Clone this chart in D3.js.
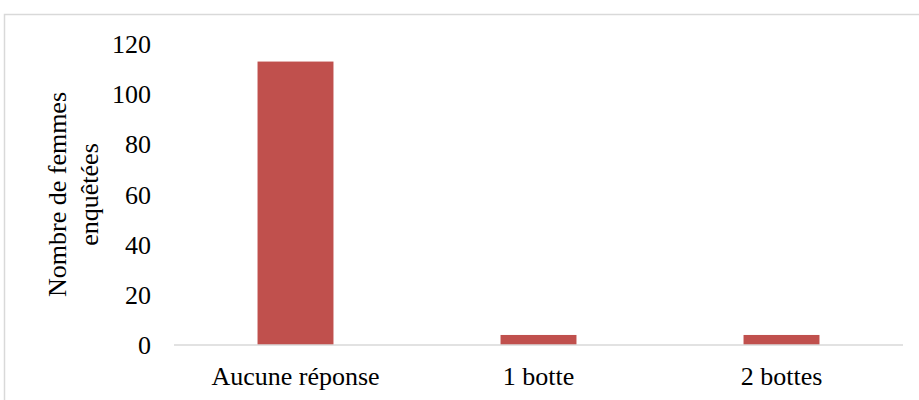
<!DOCTYPE html>
<html>
<head>
<meta charset="utf-8">
<script src="https://cdn.jsdelivr.net/npm/d3@7"></script>
<style>
  html, body { margin: 0; padding: 0; background: #fff; }
  svg { display: block; }
  text { font-family: "Liberation Serif", "Times New Roman", serif; fill: #000; }
</style>
</head>
<body>
<svg id="chart" width="919" height="400"></svg>
<script>
const categories = ["Aucune réponse", "1 botte", "2 bottes"];
const values = [113, 4, 4];
const yTicks = [0, 20, 40, 60, 80, 100, 120];
const yTitleLines = ["Nombre de femmes", "enquêtées"];

const svg = d3.select("#chart");
const W = 919, H = 400;
const margin = { left: 174, right: 16, top: 44, bottom: 55 };

svg.append("rect")
  .attr("x", 4.5).attr("y", 14.5)
  .attr("width", 1000).attr("height", 1000)
  .attr("fill", "#fff").attr("stroke", "#d9d9d9").attr("stroke-width", 1.5);

const x = d3.scaleBand()
  .domain(categories)
  .range([margin.left, W - margin.right])
  .paddingInner(0.6875).paddingOuter(0.34375);

const y = d3.scaleLinear().domain([0, 120]).range([H - margin.bottom, margin.top]);

// bars
svg.append("g").selectAll("rect")
  .data(categories.map((c, i) => ({ c, v: values[i] })))
  .join("rect")
  .attr("x", d => x(d.c))
  .attr("width", x.bandwidth())
  .attr("y", d => y(d.v))
  .attr("height", d => y(0) - y(d.v))
  .attr("fill", "#c0504d");

// x axis baseline
svg.append("line")
  .attr("x1", margin.left).attr("x2", W - margin.right)
  .attr("y1", y(0)).attr("y2", y(0))
  .attr("stroke", "#d9d9d9").attr("stroke-width", 1.5);

// y axis labels
const yAxis = d3.axisLeft(y).tickValues(yTicks).tickSize(0).tickPadding(0);
const gy = svg.append("g").attr("transform", `translate(151,0)`).call(yAxis);
gy.select(".domain").remove();
gy.selectAll("text")
  .attr("font-size", 26)
  .attr("font-family", "Liberation Serif, Times New Roman, serif")
  .attr("fill", "#000")
  .attr("dy", "0.33em");

// x axis labels
const xAxis = d3.axisBottom(x).tickSize(0).tickPadding(0);
const gx = svg.append("g").attr("transform", `translate(0,${y(0)})`).call(xAxis);
gx.select(".domain").remove();
gx.selectAll("text")
  .attr("font-size", 26)
  .attr("font-family", "Liberation Serif, Times New Roman, serif")
  .attr("fill", "#000")
  .attr("y", 0).attr("dy", 40);

// y title
const cy = (y(0) + y(120)) / 2;
const t = svg.append("text")
  .attr("transform", `translate(66,${cy}) rotate(-90)`)
  .attr("text-anchor", "middle")
  .attr("font-size", 26);
yTitleLines.forEach((l, i) => {
  t.append("tspan").attr("x", 0).attr("y", i * 32).text(l);
});
</script>
</body>
</html>
